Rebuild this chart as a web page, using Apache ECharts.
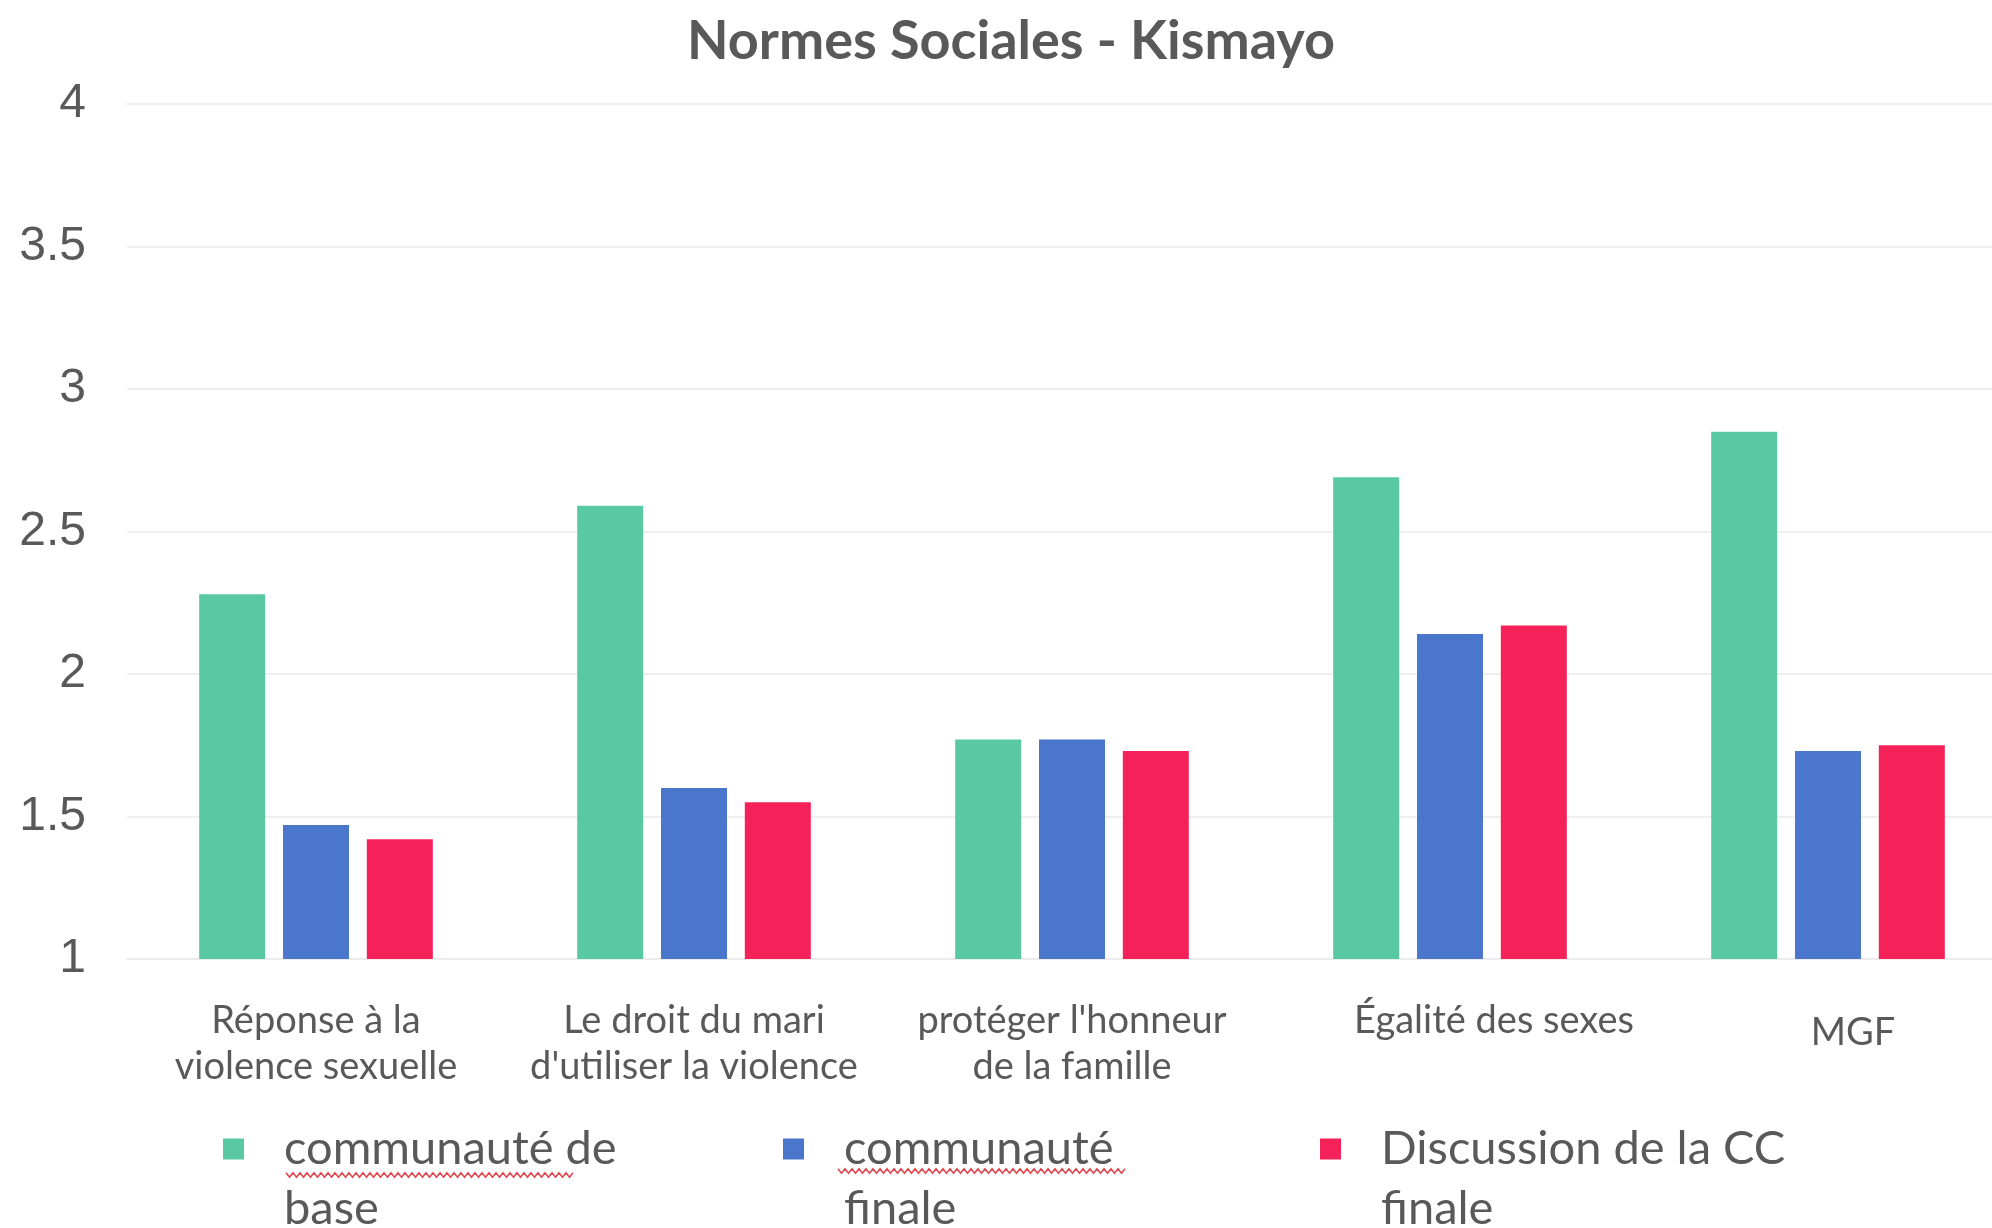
<!DOCTYPE html>
<html>
<head>
<meta charset="utf-8">
<title>Normes Sociales - Kismayo</title>
<script src="https://cdn.jsdelivr.net/npm/echarts@6/dist/echarts.min.js"></script>
<style>
  html, body { margin: 0; padding: 0; background: #ffffff; }
  #chart { width: 1992px; height: 1228px; }
</style>
</head>
<body>
<div id="chart"></div>
<script>
// Categories (line breaks are the drawn label wrapping)
const categories = [
  "Réponse à la\nviolence sexuelle",
  "Le droit du mari\nd'utiliser la violence",
  "protéger l'honneur\nde la famille",
  "Égalité des sexes",
  "MGF"
];

// Series names and values
const seriesNames = ["communauté de base", "communauté finale", "Discussion de la CC finale"];
const baseValues = [2.28, 2.59, 1.77, 2.69, 2.85];
const finaleValues = [1.47, 1.60, 1.77, 2.14, 1.73];
const ccValues = [1.42, 1.55, 1.73, 2.17, 1.75];

// Legend text as wrapped on two lines
const legendLabels = ["communauté de\nbase", "communauté\nfinale", "Discussion de la CC\nfinale"];

const colors = ["#59C9A3", "#4A77CB", "#F52259"];
const textGray = "#595959";
const labelFont = "Lato, 'Open Sans', sans-serif";

// Per-label nudge for the last two category labels
const labelShift = [0, 0, 0, 88, 50];
const labelDrop = [0, 0, 0, 0, 12];

const chart = echarts.init(document.getElementById('chart'), null, { renderer: 'canvas' });

const axisData = categories.map((c, i) => ({
  value: c,
  textStyle: { padding: [labelDrop[i], 0, 0, labelShift[i]] }
}));

const legendLefts = [223, 783, 1320];

// Red wavy underline (spell-check style) under a legend word
function wavy(x0, x1, y) {
  const pts = [];
  let up = true;
  for (let x = x0; x <= x1; x += 3.5) {
    pts.push([x, y + (up ? -2.2 : 2.2)]);
    up = !up;
  }
  return {
    type: 'polyline',
    shape: { points: pts },
    style: { stroke: '#e2474f', lineWidth: 1.6, fill: null },
    silent: true
  };
}

const option = {
  backgroundColor: '#ffffff',
  animation: false,
  color: colors,
  title: {
    text: 'Normes Sociales - Kismayo',
    left: 1011,
    textAlign: 'center',
    top: 15,
    padding: 0,
    textStyle: {
      fontFamily: labelFont,
      fontWeight: 'bold',
      fontSize: 54,
      color: textGray
    }
  },
  legend: seriesNames.map((name, i) => ({
    data: [name],
    left: legendLefts[i],
    top: 1059,
    padding: 0,
    icon: 'rect',
    itemWidth: 21,
    itemHeight: 21,
    selectedMode: false,
    // leading empty line keeps the marker level with the first text line
    formatter: n => '\n' + legendLabels[seriesNames.indexOf(n)],
    textStyle: {
      fontFamily: labelFont,
      fontSize: 47,
      lineHeight: 60,
      color: textGray,
      padding: [0, 0, 0, 35]
    }
  })),
  grid: {
    left: 127,
    right: -25,
    top: 104,
    bottom: 269,
    containLabel: false,
    outerBoundsMode: 'none'
  },
  xAxis: {
    type: 'category',
    data: axisData,
    axisLine: { show: true, lineStyle: { color: '#ececec', width: 2 } },
    axisTick: { show: false },
    axisLabel: {
      interval: 0,
      margin: 39,
      fontFamily: labelFont,
      fontSize: 38,
      lineHeight: 46,
      color: textGray,
      align: 'center'
    }
  },
  yAxis: {
    type: 'value',
    min: 1,
    max: 4,
    interval: 0.5,
    axisLine: { show: false },
    axisTick: { show: false },
    axisLabel: {
      margin: 41,
      fontFamily: "'Liberation Sans', Arial, sans-serif",
      fontSize: 48,
      color: textGray
    },
    splitLine: { lineStyle: { color: '#efefef', width: 2 } }
  },
  series: [
    { name: seriesNames[0], type: 'bar', data: baseValues, barWidth: 66, barGap: '27%' },
    { name: seriesNames[1], type: 'bar', data: finaleValues, barWidth: 66, barGap: '27%' },
    { name: seriesNames[2], type: 'bar', data: ccValues, barWidth: 66, barGap: '27%' }
  ],
  graphic: [
    wavy(286, 574, 1175),
    wavy(838, 1126, 1171)
  ]
};

chart.setOption(option);
</script>
</body>
</html>
